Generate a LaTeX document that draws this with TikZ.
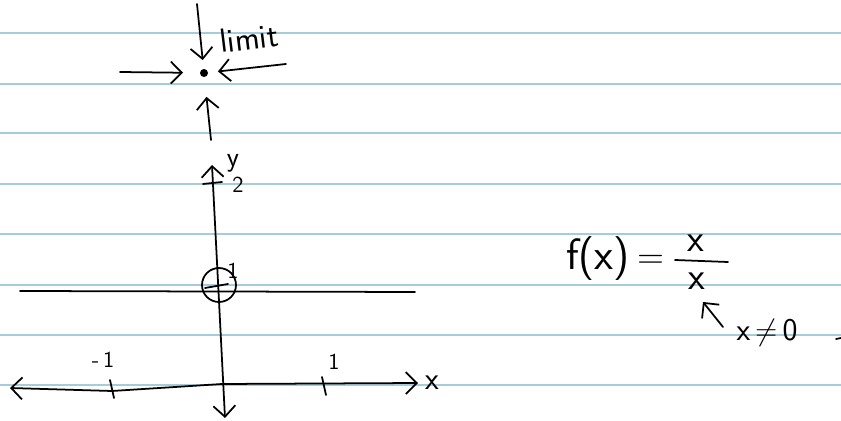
\documentclass[tikz,border=0pt]{standalone}
\usepackage{amsmath,amssymb}
\usepackage{xcolor}
\usepackage{tikz}
\usetikzlibrary{arrows.meta}
\definecolor{ruleblue}{RGB}{165,204,218}

\begin{document}
\begin{tikzpicture}[
  x=0.2mm, y=-0.2mm,
  ink/.style={line width=1pt, line cap=round, line join=round},
  handarrow/.style={ink, -{Straight Barb[length=2.2mm,width=4.4mm]}},
  axis/.style={ink, {Straight Barb[length=2.2mm,width=4.4mm]}-{Straight Barb[length=2.2mm,width=4.4mm]}},
  ruling/.style={ruleblue, line width=1.2pt},
  hand/.style={inner sep=0pt, font=\sffamily\fontsize{#1}{#1}\selectfont},
  hand/.default=12
]
\fill[white] (0,0) rectangle (841,421);
\useasboundingbox (0,0) rectangle (841,421);

% lined paper
\foreach \y in {33,84,133,184,234,285,335,385}
  \draw[ruling] (0,\y) -- (841,\y);

% the limit point and the arrows closing in on it
\coordinate (lim) at (204,73);
\fill (lim) circle[radius=4];
\coordinate (inleft) at (120,72);
\coordinate (inright) at (286,64);
\coordinate (intop) at (197,4);
\coordinate (inbottom) at (211,140);
\draw[handarrow, shorten >=4.2mm] (inleft) -- (lim);
\draw[handarrow, shorten >=2.8mm] (inright) -- (lim);
\draw[handarrow, shorten >=2.6mm] (intop) -- (lim);
\draw[handarrow, shorten >=4.8mm] (inbottom) -- (lim);
\node[hand=19, rotate=7] (limtext) at (249,38) {limit};

% axes
\coordinate (ytop) at (212,165);
\coordinate (ybot) at (225,418);
\coordinate (xleft) at (10,388);
\coordinate (xright) at (418,383);
\draw[axis] (ytop) -- (ybot);
\draw[axis] (xleft) -- (112,391) -- (222,384) -- (xright);
\node[hand=18] (xlabel) at (432,383) {x};
\node[hand=16] (ylabel) at (233,163) {y};

% ticks and their labels
\draw[ink] (203,184) -- (222,182);
\node[hand=13] (ytwo) at (238,185) {2};
\draw[ink] (205,288) -- (228,284);
\node[hand=13] (yone) at (233,271) {1};
\draw[ink] (110,380) -- (114,398);
\node[hand=13] (xmone) at (103,360) {-\,1};
\draw[ink] (322,377) -- (326,395);
\node[hand=13] (xone) at (334,362) {1};

% graph of f: y = 1 with a hole at x = 0
\draw[ink] (20,291) -- (415,292);
\draw[ink] (219,285) circle[radius=17];

% the function
\node[hand=25] (fx) at (598,259) {f(x)};
\node[hand=21] (eq) at (651,262) {=};
\node[hand=22] (num) at (696,243) {x};
\draw[ink] (675,260) -- (728,262);
\node[hand=22] (den) at (697,281) {x};
\node[hand=18] (cond) at (767,333) {x\,$\neq$\,0};
\coordinate (notefrom) at (723,327);
\coordinate (noteto) at (703,302);
\draw[handarrow] (notefrom) -- (noteto);
\draw[ink] (836,339) -- (841,338);
\end{tikzpicture}
\end{document}
